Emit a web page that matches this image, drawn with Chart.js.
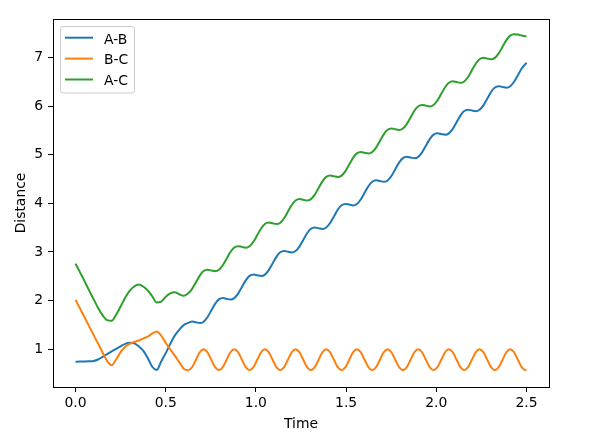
<!DOCTYPE html>
<html lang="en">
<head>
    <meta charset="UTF-8">
    <title>Distance vs Time</title>
    <script src="https://cdn.jsdelivr.net/npm/chart.js"></script>
    <style>
        body {
            margin: 0;
            padding: 0;
            background-color: #fff;
        }
        #wrap {
            width: 605px;
            height: 439px;
        }
    </style>
</head>
<body>
    <div id="wrap"><canvas id="distChart" width="605" height="439"></canvas></div>

    <script>
        // values
        var times = [
            0, 0.025, 0.05, 0.075, 0.1, 0.125, 0.15, 0.175, 0.2, 0.225,
            0.25, 0.275, 0.3, 0.325, 0.35, 0.375, 0.4, 0.425, 0.45, 0.475,
            0.5, 0.525, 0.55, 0.575, 0.6,
            0.625, 0.64625, 0.6675, 0.68875, 0.71, 0.73125, 0.7525, 0.77375,
            0.795, 0.81625, 0.8375, 0.85875, 0.88, 0.90125, 0.9225, 0.94375,
            0.965, 0.98625, 1.0075, 1.02875, 1.05, 1.07125, 1.0925, 1.11375,
            1.135, 1.15625, 1.1775, 1.19875, 1.22, 1.24125, 1.2625, 1.28375,
            1.305, 1.32625, 1.3475, 1.36875, 1.39, 1.41125, 1.4325, 1.45375,
            1.475, 1.49625, 1.5175, 1.53875, 1.56, 1.58125, 1.6025, 1.62375,
            1.645, 1.66625, 1.6875, 1.70875, 1.73, 1.75125, 1.7725, 1.79375,
            1.815, 1.83625, 1.8575, 1.87875, 1.9, 1.92125, 1.9425, 1.96375,
            1.985, 2.00625, 2.0275, 2.04875, 2.07, 2.09125, 2.1125, 2.13375,
            2.155, 2.17625, 2.1975, 2.21875, 2.24, 2.26125, 2.2825, 2.30375,
            2.325, 2.34625, 2.3675, 2.38875, 2.41, 2.43125, 2.4525, 2.47375,
            2.495, 2.5
        ];

        var abValues = [
            0.745, 0.746, 0.748, 0.752, 0.76, 0.79, 0.845, 0.90, 0.957, 1.01,
            1.06, 1.11, 1.135, 1.125, 1.06, 0.97, 0.82, 0.64, 0.575, 0.749,
            0.92, 1.11, 1.28, 1.40, 1.50,
            1.541, 1.569, 1.554, 1.538, 1.567, 1.659, 1.796, 1.932,
            2.025, 2.053, 2.038, 2.022, 2.051, 2.143, 2.280, 2.416,
            2.509, 2.537, 2.522, 2.506, 2.535, 2.627, 2.764, 2.900,
            2.993, 3.021, 3.006, 2.990, 3.019, 3.111, 3.248, 3.384,
            3.477, 3.505, 3.490, 3.474, 3.503, 3.595, 3.732, 3.868,
            3.961, 3.989, 3.974, 3.958, 3.987, 4.079, 4.216, 4.352,
            4.445, 4.473, 4.458, 4.442, 4.471, 4.563, 4.700, 4.836,
            4.929, 4.957, 4.942, 4.926, 4.955, 5.047, 5.184, 5.320,
            5.413, 5.441, 5.426, 5.410, 5.439, 5.531, 5.668, 5.804,
            5.897, 5.925, 5.910, 5.894, 5.923, 6.015, 6.152, 6.288,
            6.381, 6.409, 6.394, 6.378, 6.407, 6.499, 6.636, 6.772,
            6.865, 6.89
        ];

        var bcValues = [
            2.015, 1.835, 1.655, 1.475, 1.295, 1.115, 0.935, 0.76, 0.67, 0.79,
            0.94, 1.05, 1.11, 1.15, 1.18, 1.22, 1.26, 1.32, 1.365, 1.28,
            1.13, 1.00, 0.87, 0.735, 0.60,
            0.569, 0.632, 0.785, 0.938, 1.001, 0.938, 0.785, 0.632,
            0.569, 0.632, 0.785, 0.938, 1.001, 0.938, 0.785, 0.632,
            0.569, 0.632, 0.785, 0.938, 1.001, 0.938, 0.785, 0.632,
            0.569, 0.632, 0.785, 0.938, 1.001, 0.938, 0.785, 0.632,
            0.569, 0.632, 0.785, 0.938, 1.001, 0.938, 0.785, 0.632,
            0.569, 0.632, 0.785, 0.938, 1.001, 0.938, 0.785, 0.632,
            0.569, 0.632, 0.785, 0.938, 1.001, 0.938, 0.785, 0.632,
            0.569, 0.632, 0.785, 0.938, 1.001, 0.938, 0.785, 0.632,
            0.569, 0.632, 0.785, 0.938, 1.001, 0.938, 0.785, 0.632,
            0.569, 0.632, 0.785, 0.938, 1.001, 0.938, 0.785, 0.632,
            0.569, 0.632, 0.785, 0.938, 1.001, 0.938, 0.785, 0.632,
            0.569, 0.573
        ];

        var acValues = [
            2.76, 2.58, 2.40, 2.21, 2.03, 1.85, 1.70, 1.60, 1.585, 1.71,
            1.88, 2.06, 2.20, 2.29, 2.33, 2.29, 2.21, 2.09, 1.96, 1.98,
            2.08, 2.15, 2.17, 2.13, 2.10,
            2.150, 2.242, 2.379, 2.515, 2.608, 2.636, 2.621, 2.605,
            2.634, 2.726, 2.863, 2.999, 3.092, 3.120, 3.105, 3.089,
            3.118, 3.210, 3.347, 3.483, 3.576, 3.604, 3.589, 3.573,
            3.602, 3.694, 3.831, 3.967, 4.060, 4.088, 4.073, 4.057,
            4.086, 4.178, 4.315, 4.451, 4.544, 4.572, 4.557, 4.541,
            4.570, 4.662, 4.799, 4.935, 5.028, 5.056, 5.041, 5.025,
            5.054, 5.146, 5.283, 5.419, 5.512, 5.540, 5.525, 5.509,
            5.538, 5.630, 5.767, 5.903, 5.996, 6.024, 6.009, 5.993,
            6.022, 6.114, 6.251, 6.387, 6.480, 6.508, 6.493, 6.477,
            6.506, 6.598, 6.735, 6.871, 6.964, 6.992, 6.977, 6.961,
            6.990, 7.082, 7.219, 7.355, 7.448, 7.476, 7.47, 7.45,
            7.435, 7.433
        ];

        var xTicks = [0, 0.5, 1, 1.5, 2, 2.5];
        var yTicks = [1, 2, 3, 4, 5, 6, 7];
        var seriesNames = ['A-B', 'B-C', 'A-C'];
        var seriesColors = ['#1f77b4', '#ff7f0e', '#2ca02c'];

        var FONT = 'DejaVu Sans';

        function toPoints(values) {
            return times.map(function (t, i) { return { x: t, y: values[i] }; });
        }

        // axes frame (all four sides, like matplotlib spines)
        var framePlugin = {
            id: 'frame',
            afterDatasetsDraw: function (chart) {
                var a = chart.chartArea;
                var ctx = chart.ctx;
                ctx.save();
                ctx.strokeStyle = '#000';
                ctx.lineWidth = 1;
                ctx.strokeRect(a.left + 0.5, a.top + 0.5, a.right - a.left, a.bottom - a.top);
                ctx.restore();
            }
        };

        // boxed legend in the upper left corner
        var legendPlugin = {
            id: 'boxLegend',
            afterDraw: function (chart) {
                var ctx = chart.ctx;
                var x0 = 60.5, y0 = 26.5, w = 74, h = 66.5, r = 2.5;
                ctx.save();
                ctx.beginPath();
                ctx.moveTo(x0 + r, y0);
                ctx.lineTo(x0 + w - r, y0);
                ctx.arcTo(x0 + w, y0, x0 + w, y0 + r, r);
                ctx.lineTo(x0 + w, y0 + h - r);
                ctx.arcTo(x0 + w, y0 + h, x0 + w - r, y0 + h, r);
                ctx.lineTo(x0 + r, y0 + h);
                ctx.arcTo(x0, y0 + h, x0, y0 + h - r, r);
                ctx.lineTo(x0, y0 + r);
                ctx.arcTo(x0, y0, x0 + r, y0, r);
                ctx.closePath();
                ctx.fillStyle = 'rgba(255,255,255,0.8)';
                ctx.fill();
                ctx.strokeStyle = '#cccccc';
                ctx.lineWidth = 1;
                ctx.stroke();

                ctx.font = '13.9px "' + FONT + '"';
                ctx.textBaseline = 'alphabetic';
                ctx.textAlign = 'left';
                chart.data.datasets.forEach(function (ds, i) {
                    var ly = 37.7 + i * 20.9;
                    ctx.beginPath();
                    ctx.moveTo(65, ly);
                    ctx.lineTo(93, ly);
                    ctx.strokeStyle = ds.borderColor;
                    ctx.lineWidth = 2;
                    ctx.stroke();
                    ctx.fillStyle = '#000';
                    ctx.fillText(ds.label, 104, 43.5 + i * 20.7);
                });
                ctx.restore();
            }
        };

        var ctx = document.getElementById('distChart').getContext('2d');
        var distChart = new Chart(ctx, {
            type: 'line',
            data: {
                datasets: [
                    { label: seriesNames[0], data: toPoints(abValues), borderColor: seriesColors[0], order: 3 },
                    { label: seriesNames[1], data: toPoints(bcValues), borderColor: seriesColors[1], order: 2 },
                    { label: seriesNames[2], data: toPoints(acValues), borderColor: seriesColors[2], order: 1 }
                ]
            },
            options: {
                responsive: false,
                animation: false,
                layout: { padding: { left: 0, right: 56, top: 19, bottom: 0 } },
                elements: {
                    line: { borderWidth: 2, fill: false, cubicInterpolationMode: 'monotone' },
                    point: { radius: 0 }
                },
                plugins: {
                    legend: { display: false },
                    tooltip: { enabled: false }
                },
                scales: {
                    x: {
                        type: 'linear',
                        min: -0.125,
                        max: 2.625,
                        afterBuildTicks: function (s) {
                            s.ticks = xTicks.map(function (v) { return { value: v }; });
                        },
                        afterFit: function (s) { s.height = 52; },
                        grid: { drawOnChartArea: false, drawTicks: true, tickLength: 5, color: '#000' },
                        border: { display: false },
                        ticks: {
                            color: '#000',
                            padding: 3,
                            maxRotation: 0,
                            font: { family: FONT, size: 13.9 },
                            callback: function (v) { return Number(v).toFixed(1); }
                        },
                        title: {
                            display: true,
                            text: 'Time',
                            color: '#000',
                            font: { family: FONT, size: 13.9 },
                            padding: { top: 0, bottom: 6 }
                        }
                    },
                    y: {
                        type: 'linear',
                        min: 0.224,
                        max: 7.79,
                        afterBuildTicks: function (s) {
                            s.ticks = yTicks.map(function (v) { return { value: v }; });
                        },
                        afterFit: function (s) { s.width = 53; },
                        grid: { drawOnChartArea: false, drawTicks: true, tickLength: 5, color: '#000' },
                        border: { display: false },
                        ticks: {
                            color: '#000',
                            padding: 5,
                            font: { family: FONT, size: 13.9 },
                            callback: function (v) { return String(v); }
                        },
                        title: {
                            display: true,
                            text: 'Distance',
                            color: '#000',
                            font: { family: FONT, size: 13.9 },
                            padding: { top: 12.7, bottom: 0 }
                        }
                    }
                }
            },
            plugins: [framePlugin, legendPlugin]
        });
    </script>
</body>
</html>
